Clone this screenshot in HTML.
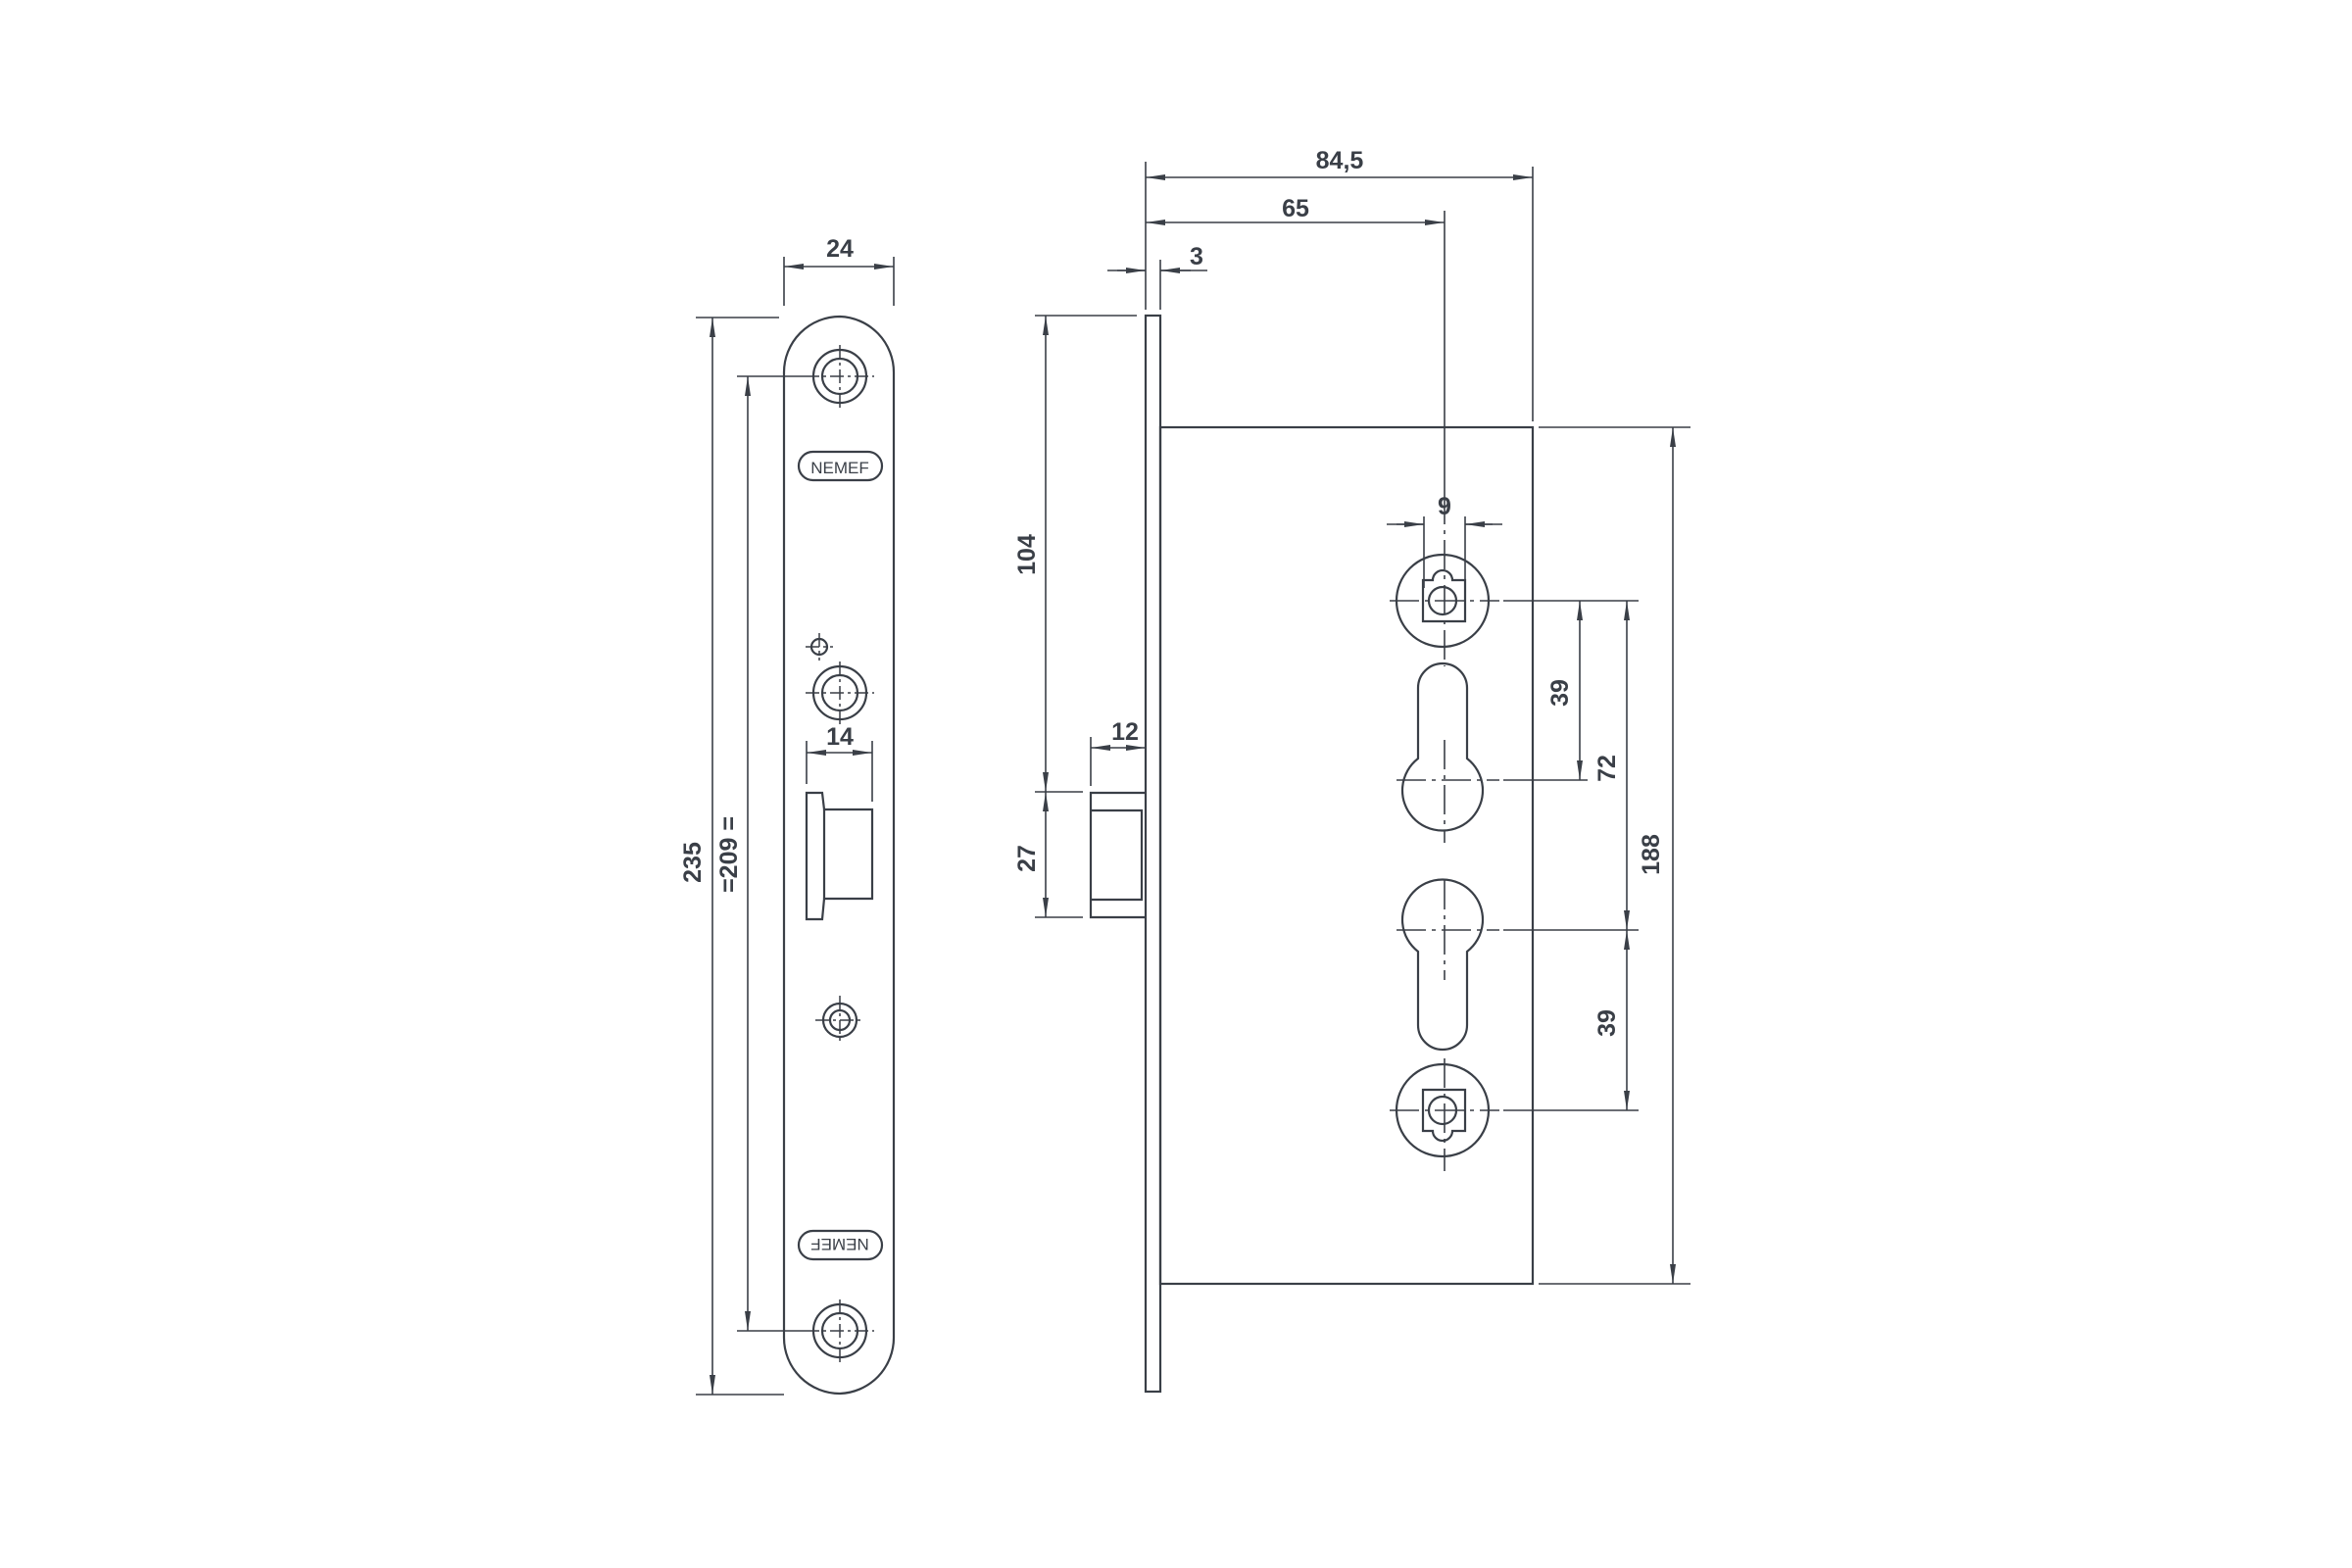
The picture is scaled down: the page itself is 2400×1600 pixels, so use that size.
<!DOCTYPE html>
<html><head><meta charset="utf-8"><style>
html,body{margin:0;padding:0;background:#fff;}
svg{display:block}
text{font-family:"Liberation Sans",sans-serif;font-weight:bold;fill:#3a3f47;font-size:25px}
</style></head><body>
<svg width="2400" height="1600" viewBox="0 0 2400 1600" xmlns="http://www.w3.org/2000/svg">
<defs>
<marker id="a" viewBox="0 0 20 8" refX="20" refY="4" markerWidth="20" markerHeight="8" markerUnits="userSpaceOnUse" orient="auto-start-reverse"><path d="M0,1 L20,4 L0,7 z" fill="#3a3f47"/></marker>
</defs>
<g stroke="#3a3f47" stroke-width="2.2" fill="none">
<!-- LEFT faceplate -->
<path d="M800,1365 L800,380 A57,57 0 0 1 857,323 L857,323 A57,57 0 0 1 912,380 L912,1365 A57,57 0 0 1 857,1422 A57,57 0 0 1 800,1365 Z"/>
<!-- holes -->
<circle cx="857" cy="384" r="27"/><circle cx="857" cy="384" r="18"/>
<circle cx="857" cy="707" r="27"/><circle cx="857" cy="707" r="18"/>
<circle cx="857" cy="1358" r="27"/><circle cx="857" cy="1358" r="18"/>
<circle cx="857" cy="1041" r="17"/><circle cx="857" cy="1041" r="10"/>
<circle cx="836" cy="660" r="8"/>
<g stroke-width="1.5" stroke-dasharray="14,4,3,4">
<path d="M822,384 H892 M857,352 V416 M822,707 H892 M857,675 V739 M822,1358 H892 M857,1326 V1390 M832,1041 H882 M857,1016 V1066 M822,660 H850 M836,646 V674"/>
</g>
<!-- NEMEF badges -->
<rect x="815" y="461" width="85" height="29" rx="14.5"/>
<rect x="815" y="1256" width="85" height="29" rx="14.5"/>
<!-- latch cutout -->
<path d="M823,809 H839 L841,826 H890 V917 H841 L839,938 H823 Z"/>
<path d="M841,826 V917"/>
<!-- left dims -->
<path d="M800,312 V262 M912,312 V262" stroke-width="1.6"/>
<path d="M800,272 H912" stroke-width="1.6" marker-start="url(#a)" marker-end="url(#a)"/>
<path d="M710,324 H795 M710,1423 H800" stroke-width="1.6"/>
<path d="M727,324 V1423" stroke-width="1.6" marker-start="url(#a)" marker-end="url(#a)"/>
<path d="M752,384 H822 M752,1358 H822" stroke-width="1.6"/>
<path d="M763,384 V1358" stroke-width="1.6" marker-start="url(#a)" marker-end="url(#a)"/>
<path d="M823,800 V756 M890,818 V756" stroke-width="1.6"/>
<path d="M823,768 H890" stroke-width="1.6" marker-start="url(#a)" marker-end="url(#a)"/>
<!-- SIDE view -->
<rect x="1169" y="322" width="15" height="1098"/>
<rect x="1184" y="436" width="380" height="874"/>
<!-- side latch -->
<path d="M1169,809 H1113 V936 H1169 M1113,827 H1165 V918 H1113"/>
<!-- side dims -->
<path d="M1169,316 V165 M1184,316 V265 M1564,430 V170 M1474,505 V215" stroke-width="1.6"/>
<path d="M1169,181 H1564" stroke-width="1.6" marker-start="url(#a)" marker-end="url(#a)"/>
<path d="M1169,227 H1474" stroke-width="1.6" marker-start="url(#a)" marker-end="url(#a)"/>
<path d="M1130,276 H1169 M1184,276 H1232" stroke-width="1.6"/>
<path d="M1140,276 H1169" stroke-width="1.6" marker-end="url(#a)"/>
<path d="M1215,276 H1184" stroke-width="1.6" marker-end="url(#a)"/>
<path d="M1056,322 H1160 M1056,808 H1105 M1056,936 H1105 M1113,802 V752" stroke-width="1.6"/>
<path d="M1067,322 V808" stroke-width="1.6" marker-start="url(#a)" marker-end="url(#a)"/>
<path d="M1067,808 V936" stroke-width="1.6" marker-start="url(#a)" marker-end="url(#a)"/>
<path d="M1113,763 H1169" stroke-width="1.6" marker-start="url(#a)" marker-end="url(#a)"/>
<!-- 9 dim -->
<path d="M1453,600 V527 M1495,600 V527" stroke-width="1.6"/>
<path d="M1415,535 H1453 M1495,535 H1533" stroke-width="1.6"/>
<path d="M1425,535 H1453" stroke-width="1.6" marker-end="url(#a)"/>
<path d="M1523,535 H1495" stroke-width="1.6" marker-end="url(#a)"/>
<!-- top handle hole -->
<circle cx="1472" cy="613" r="47"/>
<path d="M1452,634 V592 H1462 A10,10 0 0 1 1472,582 A10,10 0 0 1 1482,592 H1495 V634 Z"/>
<circle cx="1472" cy="613" r="14"/>
<!-- bottom handle hole -->
<circle cx="1472" cy="1133" r="47"/>
<path d="M1452,1112 V1154 H1462 A10,10 0 0 0 1472,1164 A10,10 0 0 0 1482,1154 H1495 V1112 Z"/>
<circle cx="1472" cy="1133" r="14"/>
<!-- keyholes -->
<path d="M1447,774 V702 A25,25 0 0 1 1497,702 V774 A41,41 0 1 1 1447,774 Z"/>
<path d="M1447,971 V1046 A25,25 0 0 0 1497,1046 V971 A41,41 0 1 0 1447,971 Z"/>
<!-- centerlines -->
<g stroke-width="1.6" stroke-dasharray="30,6,4,6">
<path d="M1474,505 V680 M1474,755 V860 M1474,898 V1000 M1474,1080 V1195"/>
<path d="M1418,613 H1530 M1425,796 H1530 M1425,949 H1530 M1418,1133 H1530"/>
</g>
<path d="M1534,613 H1672 M1534,796 H1620 M1534,949 H1672 M1534,1133 H1672 M1570,436 H1725 M1570,1310 H1725" stroke-width="1.6"/>
<path d="M1612,613 V796" stroke-width="1.6" marker-start="url(#a)" marker-end="url(#a)"/>
<path d="M1660,613 V949" stroke-width="1.6" marker-start="url(#a)" marker-end="url(#a)"/>
<path d="M1660,949 V1133" stroke-width="1.6" marker-start="url(#a)" marker-end="url(#a)"/>
<path d="M1707,436 V1310" stroke-width="1.6" marker-start="url(#a)" marker-end="url(#a)"/>
</g>
<!-- labels -->
<text x="857" y="272" text-anchor="middle" dy="-10">24</text>
<text x="857" y="760" text-anchor="middle">14</text>
<text transform="translate(715,880) rotate(-90)" text-anchor="middle">235</text>
<text transform="translate(752,872) rotate(-90)" text-anchor="middle">=209 =</text>
<text x="857" y="483" text-anchor="middle" style="font-weight:normal;font-size:17px">NEMEF</text>
<text transform="translate(857,1270) rotate(180)" text-anchor="middle" dy="6" style="font-weight:normal;font-size:17px">NEMEF</text>
<text x="1367" y="172" text-anchor="middle">84,5</text>
<text x="1322" y="221" text-anchor="middle">65</text>
<text x="1221" y="270" text-anchor="middle">3</text>
<text transform="translate(1056,566) rotate(-90)" text-anchor="middle">104</text>
<text transform="translate(1056,876) rotate(-90)" text-anchor="middle">27</text>
<text x="1148" y="755" text-anchor="middle">12</text>
<text x="1474" y="525" text-anchor="middle">9</text>
<text transform="translate(1600,707) rotate(-90)" text-anchor="middle">39</text>
<text transform="translate(1648,784) rotate(-90)" text-anchor="middle">72</text>
<text transform="translate(1693,872) rotate(-90)" text-anchor="middle">188</text>
<text transform="translate(1648,1044) rotate(-90)" text-anchor="middle">39</text>
</svg>
</body></html>
